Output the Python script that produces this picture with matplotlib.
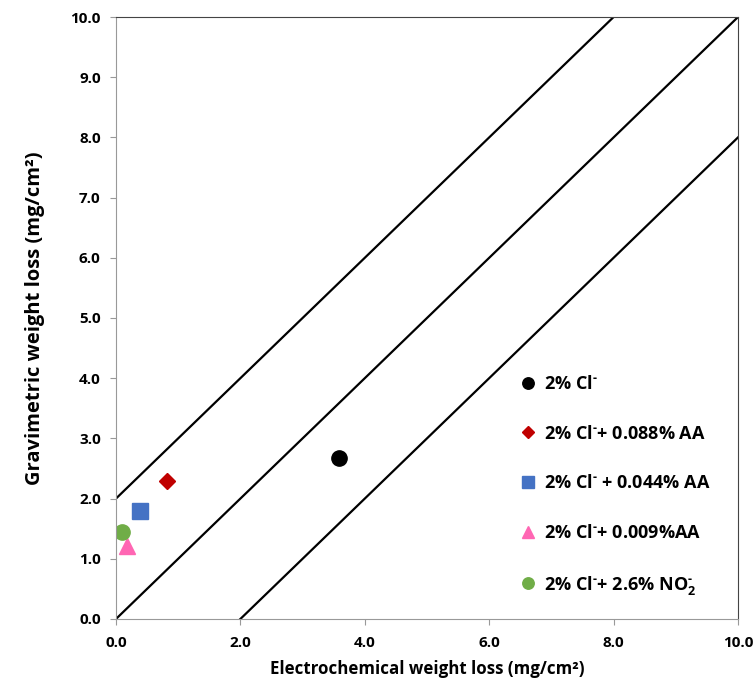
import matplotlib
matplotlib.use('Agg')
import matplotlib.pyplot as plt
import numpy as np

plt.rcParams['font.family'] = ['Open Sans', 'DejaVu Sans']
plt.rcParams['font.weight'] = 'bold'
plt.rcParams['mathtext.fontset'] = 'custom'
plt.rcParams['mathtext.rm'] = 'Open Sans:bold'
plt.rcParams['mathtext.it'] = 'Open Sans:bold'
plt.rcParams['mathtext.bf'] = 'Open Sans:bold'

# data
labels = ['2% Cl$^{\\text{-}}$', '2% Cl$^{\\text{-}}$+ 0.088% AA', '2% Cl$^{\\text{-}}$ + 0.044% AA',
          '2% Cl$^{\\text{-}}$+ 0.009%AA', '2% Cl$^{\\text{-}}$+ 2.6% NO$_2^{\\text{-}}$']
echem = [3.58, 0.82, 0.38, 0.18, 0.10]
grav = [2.67, 2.30, 1.79, 1.22, 1.44]
colors = ['black', '#c00000', '#4472c4', '#ff66b3', '#70ad47']
markers = ['o', 'D', 's', '^', 'o']
sizes = [11, 8, 11, 11, 11]
offsets = [2.0, 0.0, -2.0]   # reference lines y = x + offset

fig = plt.figure(figsize=(7.55, 6.86), dpi=100)
ax = fig.add_axes([0.1536, 0.0977, 0.8239, 0.8775])

xx = np.array([0.0, 10.0])
for off in offsets:
    ax.plot(xx, xx + off, color='black', lw=1.6)

for i in range(len(labels)):
    ax.plot(echem[i], grav[i], linestyle='none', marker=markers[i], color=colors[i],
            markersize=sizes[i], label=labels[i])

ax.set_xlim(0, 10)
ax.set_ylim(0, 10)
ax.set_xticks(np.arange(0, 10.1, 2))
ax.set_yticks(np.arange(0, 10.1, 1))
ax.set_xticklabels(['%.1f' % v for v in np.arange(0, 10.1, 2)])
ax.set_yticklabels(['%.1f' % v for v in np.arange(0, 10.1, 1)])
ax.tick_params(direction='out', length=4, color='#999999', labelsize=11)
ax.tick_params(axis='x', pad=8)
ax.tick_params(axis='y', pad=7)
ax.spines['left'].set_color('#999999')
ax.spines['bottom'].set_color('#999999')
ax.spines['top'].set_color('#444444')
ax.spines['right'].set_color('#444444')

ax.set_xlabel('Electrochemical weight loss (mg/cm²)', fontsize=12.2, fontweight='bold', labelpad=7.5)
ax.set_ylabel('Gravimetric weight loss (mg/cm²)', fontsize=14.5, fontweight='bold', labelpad=18)

ax.legend(loc='upper left', bbox_to_anchor=(0.625, 0.432), frameon=False, fontsize=13,
          labelspacing=1.75, markerscale=0.75, handlelength=0.8, handletextpad=0.5)

fig.savefig('out.png')
